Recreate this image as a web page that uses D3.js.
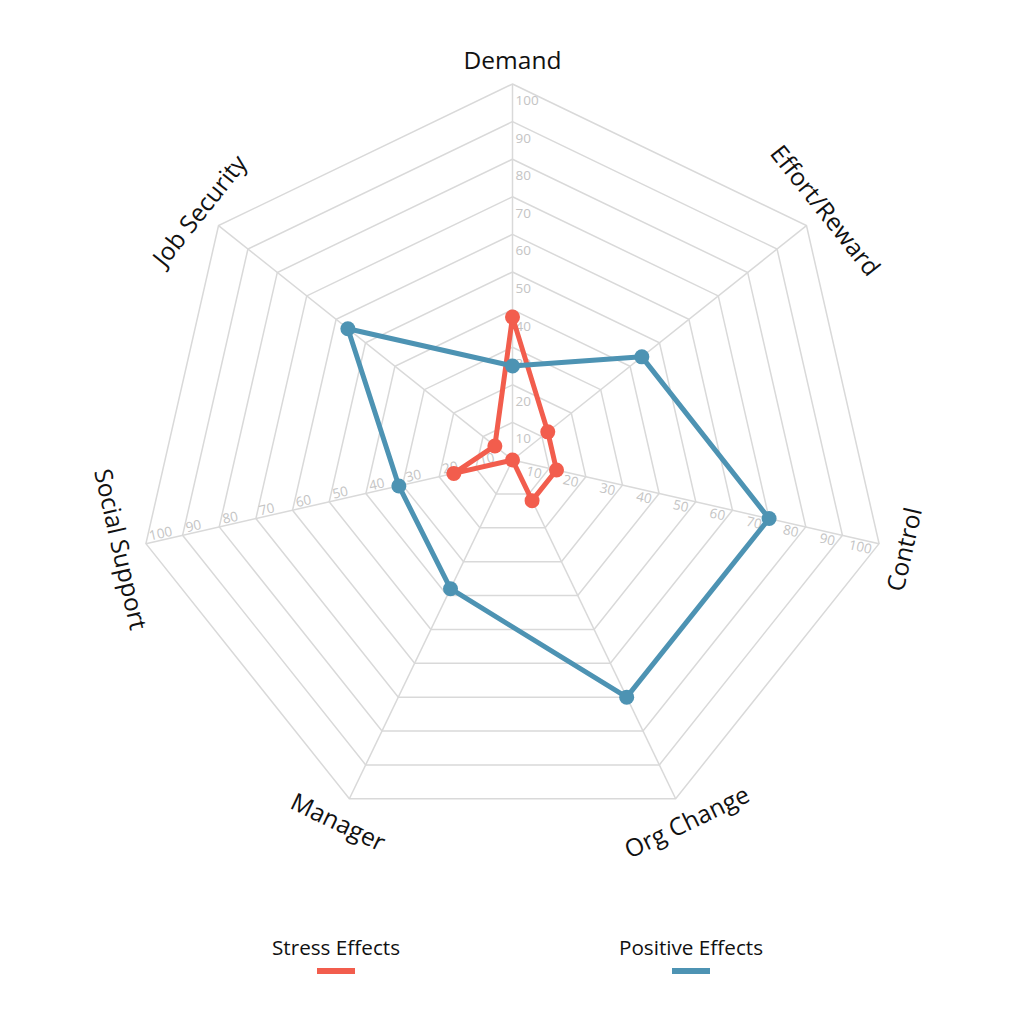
<!DOCTYPE html>
<html>
<head>
<meta charset="utf-8">
<script src="https://cdn.jsdelivr.net/npm/d3@7"></script>
<style>
  html, body { margin: 0; padding: 0; background: #fff; }
  text { font-family: "Open Sans", "Noto Sans", sans-serif; }
</style>
</head>
<body>
<div id="chart"></div>
<script>
// axes, clockwise from the top
var axes = ["Demand", "Effort/Reward", "Control", "Org Change", "Manager", "Social Support", "Job Security"];
var stressValues = [38, 12, 12, 12, 0, 16, 6];
var positiveValues = [25, 44, 70, 70, 38, 31, 56];
var seriesNames = ["Stress Effects", "Positive Effects"];
var levels = [10, 20, 30, 40, 50, 60, 70, 80, 90, 100];
// axes that carry the tick numbers
var labelledAxes = ["Demand", "Control", "Social Support"];

var w = 1024, h = 1024;
var cx = 512.5, cy = 460, R = 376;
var colors = ["#f25d4d", "#4d93b3"];

var svg = d3.select('#chart')
  .append('svg')
  .attr('width', w)
  .attr('height', h);

var g = svg.append('g').attr('transform', 'translate(' + cx + ',' + cy + ')');

var r = d3.scaleLinear().domain([0, 100]).range([0, R]);
var angle = d3.scaleLinear().domain([0, axes.length]).range([0, 2 * Math.PI]);

// x/y of a value on axis i (angle 0 = up, clockwise)
function pt(i, v) {
  var a = angle(i);
  return [Math.sin(a) * r(v), -Math.cos(a) * r(v)];
}

// grid rings
var ring = d3.lineRadial()
  .angle(function(d, i) { return angle(i); })
  .radius(function(d) { return r(d); })
  .curve(d3.curveLinearClosed);

g.selectAll('.ring')
  .data(levels)
  .enter()
  .append('path')
  .attr('class', 'ring')
  .attr('d', function(lv) { return ring(axes.map(function() { return lv; })); })
  .style('fill', 'none')
  .style('stroke', '#d9d9d9')
  .style('stroke-width', 1.5);

// spokes
g.selectAll('.spoke')
  .data(axes)
  .enter()
  .append('line')
  .attr('class', 'spoke')
  .attr('x1', 0).attr('y1', 0)
  .attr('x2', function(d, i) { return pt(i, 100)[0]; })
  .attr('y2', function(d, i) { return pt(i, 100)[1]; })
  .style('stroke', '#d9d9d9')
  .style('stroke-width', 1.5);

// tick numbers
labelledAxes.forEach(function(name) {
  var i = axes.indexOf(name);
  var deg = angle(i) * 180 / Math.PI - 90;
  g.selectAll('.tick-' + i)
    .data(levels)
    .enter()
    .append('text')
    .attr('transform', function(lv) {
      var p = pt(i, lv);
      if (i === 0) return 'translate(' + (p[0] + 3) + ',' + (p[1] + 21) + ')';
      if (deg > 90) return 'translate(' + p[0] + ',' + p[1] + ') rotate(' + (deg - 180) + ')';
      return 'translate(' + p[0] + ',' + p[1] + ') rotate(' + deg + ')';
    })
    .attr('x', function() { return i === 0 ? 0 : (deg > 90 ? 5 : -6); })
    .attr('y', function() { return i === 0 ? 0 : (deg > 90 ? -2 : 12); })
    .attr('text-anchor', function() { return i === 0 || deg > 90 ? 'start' : 'end'; })
    .style('font-size', '13.5px')
    .style('fill', '#c4c4c4')
    .text(function(lv) { return lv; });
});

// axis names, laid along the outer ring
g.selectAll('.axis-label')
  .data(axes)
  .enter()
  .append('text')
  .attr('class', 'axis-label')
  .attr('transform', function(d, i) {
    var p = pt(i, 100 * 401 / R);
    var rot = angle(i) * 180 / Math.PI;
    if (rot > 90 && rot < 270) rot -= 180;
    if (rot >= 270) rot -= 360;
    return 'translate(' + p[0] + ',' + p[1] + ') rotate(' + rot + ')';
  })
  .attr('text-anchor', 'middle')
  .attr('dominant-baseline', 'central')
  .style('font-size', '24.5px')
  .style('fill', '#111')
  .text(function(d) { return d; });

// series
var line = d3.lineRadial()
  .angle(function(d, i) { return angle(i); })
  .radius(function(d) { return r(d); })
  .curve(d3.curveLinearClosed);

[stressValues, positiveValues].forEach(function(vals, s) {
  g.append('path')
    .attr('d', line(vals))
    .style('fill', 'none')
    .style('stroke', colors[s])
    .style('stroke-width', 5)
    .style('stroke-linejoin', 'round');

  g.selectAll('.dot-' + s)
    .data(vals)
    .enter()
    .append('circle')
    .attr('cx', function(d, i) { return pt(i, d)[0]; })
    .attr('cy', function(d, i) { return pt(i, d)[1]; })
    .attr('r', 7.5)
    .style('fill', colors[s]);
});

// legend
var legendX = d3.scalePoint().domain(seriesNames).range([336, 691]);
var legend = svg.selectAll('.legend')
  .data(seriesNames)
  .enter()
  .append('g')
  .attr('transform', function(d) { return 'translate(' + legendX(d) + ',0)'; });

legend.append('text')
  .attr('y', 955)
  .attr('text-anchor', 'middle')
  .style('font-size', '20.7px')
  .style('fill', '#111')
  .text(function(d) { return d; });

legend.append('line')
  .attr('x1', -19).attr('x2', 19)
  .attr('y1', 971).attr('y2', 971)
  .style('stroke', function(d, i) { return colors[i]; })
  .style('stroke-width', 6);
</script>
</body>
</html>
